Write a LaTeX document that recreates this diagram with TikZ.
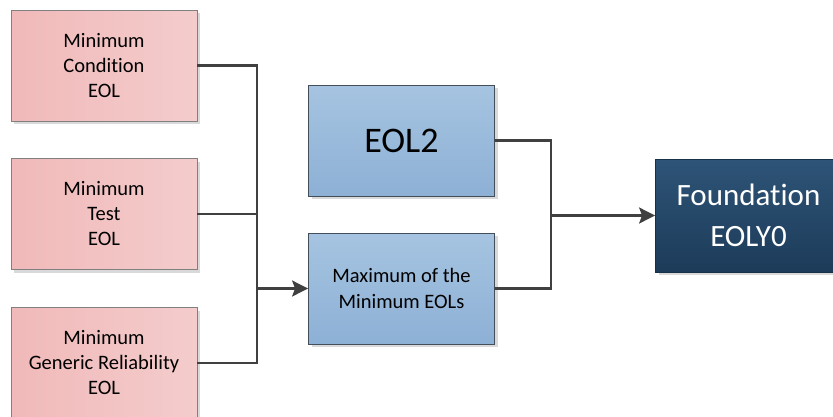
\documentclass[tikz,border=0pt]{standalone}
\usepackage{fontspec}
\setmainfont[Ligatures=NoCommon]{Carlito}
\usetikzlibrary{arrows.meta,shadows}
\definecolor{pinkA}{HTML}{F1B9B9}
\definecolor{pinkB}{HTML}{F4CCCC}
\definecolor{blueA}{HTML}{A6C4E1}
\definecolor{blueB}{HTML}{8DB0D5}
\definecolor{navyA}{HTML}{2E5477}
\definecolor{navyB}{HTML}{1D3B59}
\definecolor{wire}{HTML}{404040}
\tikzset{
  box/.style={draw, line width=0.8pt, minimum width=186pt, minimum height=111pt,
    inner sep=0pt, align=center,
    drop shadow={shadow xshift=3pt, shadow yshift=-3pt, fill=black!25, opacity=0.6}},
  inbox/.style={box, draw=black!50, left color=pinkA, right color=pinkB,
    font=\fontsize{20.5}{25}\selectfont},
  midbox/.style={box, draw=blueA!40!black, top color=blueA, bottom color=blueB},
  outbox/.style={box, draw=navyB!80!black, top color=navyA, bottom color=navyB,
    text=white, font=\fontsize{31}{41}\selectfont},
  wireline/.style={draw=wire, line width=2.3pt},
  arrowline/.style={wireline, -{Stealth[length=16pt, width=16pt, inset=3pt]}}
}
\begin{document}
\begin{tikzpicture}[x=1pt, y=-1pt]
\useasboundingbox (0,0) rectangle (833,416);

% inputs
\node[inbox] (cond) at (104,65.5) {Minimum\\Condition\\EOL};
\node[inbox] (test) at (104,214) {Minimum\\Test\\EOL};
\node[inbox] (gen) at (104,363) {Minimum\\Generic Reliability\\EOL};

% intermediate results
\node[midbox, font=\fontsize{36}{40}\selectfont] (eol2) at (401.5,140.5) {EOL2};
\node[midbox, font=\fontsize{20.5}{26}\selectfont] (maxm) at (401.5,288.5) {Maximum of the\\Minimum EOLs};

% final result
\node[outbox, minimum height=113pt] (found) at (748.5,215.5) {Foundation\\EOLY0};

% junctions
\coordinate (j1) at (257,288.5);
\coordinate (j2) at (551,215.5);

% connectors
\draw[wireline] (cond.east) -| (j1);
\draw[wireline] (gen.east) -| (j1);
\draw[wireline] (test.east) -- (test.east -| j1);
\draw[arrowline] (j1) -- (maxm.west);

\draw[wireline] (eol2.east) -| (j2);
\draw[wireline] (maxm.east) -| (j2);
\draw[arrowline] (j2) -- (found.west);
\end{tikzpicture}
\end{document}
